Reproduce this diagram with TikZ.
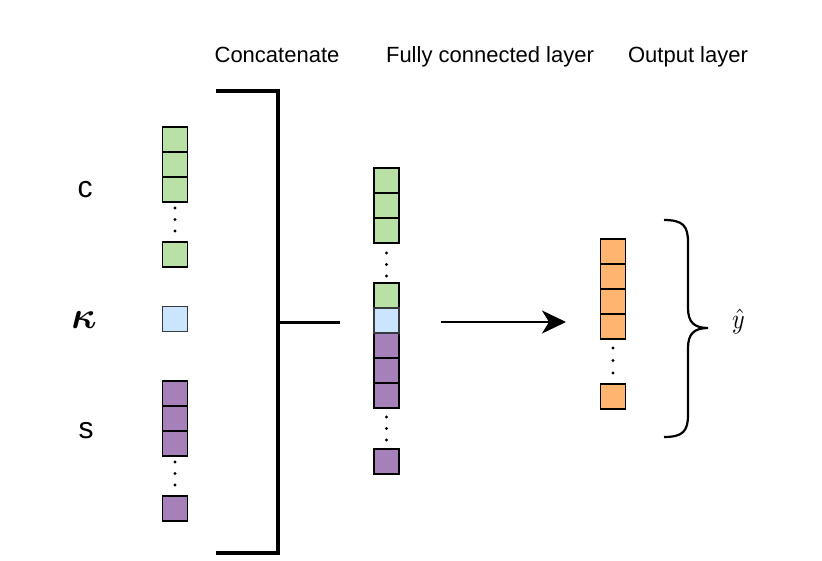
\documentclass[tikz,border=0pt]{standalone}
\usepackage{amsmath,bm}
\usepackage{graphicx}
\usepackage{fontspec}
\setmainfont{Liberation Sans}
\usetikzlibrary{arrows.meta}

\definecolor{cgreen}{HTML}{B9E0A5}
\definecolor{cblue}{HTML}{CCE5FF}
\definecolor{cpurple}{HTML}{A680B8}
\definecolor{corange}{HTML}{FFB570}
\definecolor{cgray}{HTML}{36393D}

\tikzset{
  cell/.style={draw, line width=1.8pt, minimum size=25pt, inner sep=0pt, outer sep=0pt},
  dot/.style={fill, circle, inner sep=0pt, minimum size=3.2pt},
  title/.style={font=\fontsize{22}{26}\selectfont, anchor=base},
  symb/.style={font=\fontsize{30}{34}\selectfont},
}

\begin{document}
\begin{tikzpicture}[x=1pt, y=-1pt, >=Stealth]
	\useasboundingbox (0,0) rectangle (822,560);

	% titles
	\node[title] (tcat) at (277,62) {Concatenate};
	\node[title] (tfc) at (490,62) {Fully connected layer};
	\node[title] (tout) at (688,62) {Output layer};

	% inputs
	\node[symb] (lc) at (85,190) {c};
	\node (lk) at (84,320) {\scalebox{3.8}{$\bm{\kappa}$}};
	\node[symb] (ls) at (86,431) {s};

	% left column: c
	\foreach \i/\y in {1/139.5, 2/164.5, 3/189.5}
		\node[cell, fill=cgreen] (c\i) at (175,\y) {};
	\foreach \y in {208, 219.5, 231}
		\node[dot] at (175,\y) {};
	\node[cell, fill=cgreen] (cn) at (175,254.5) {};

	% left column: kappa
	\node[cell, fill=cblue, draw=cgray] (k) at (175,319) {};

	% left column: s
	\foreach \i/\y in {1/393.5, 2/418.5, 3/443.5}
		\node[cell, fill=cpurple] (s\i) at (175,\y) {};
	\foreach \y in {462, 473.5, 485}
		\node[dot] at (175,\y) {};
	\node[cell, fill=cpurple] (sn) at (175,508.5) {};

	% concatenation bracket
	\draw[line width=3.6pt] (216,91) -- (278,91) -- (278,553) -- (216,553);
	\draw[line width=3pt] (278,322) -- (340,322);

	% fully connected layer
	\foreach \i/\y in {1/180.5, 2/205.5, 3/230.5}
		\node[cell, fill=cgreen] (fc\i) at (386.5,\y) {};
	\foreach \y in {253, 264.5, 276}
		\node[dot] at (386.5,\y) {};
	\node[cell, fill=cgreen] (fcn) at (386.5,295.5) {};
	\node[cell, fill=cblue, draw=cgray] (fk) at (386.5,320.5) {};
	\foreach \i/\y in {1/345.5, 2/370.5, 3/395.5}
		\node[cell, fill=cpurple] (fs\i) at (386.5,\y) {};
	\foreach \y in {417, 428.5, 440}
		\node[dot] at (386.5,\y) {};
	\node[cell, fill=cpurple] (fsn) at (386.5,461.5) {};
	\draw[cgray, line width=1.8pt] (fk.north west) rectangle (fk.south east);

	% arrow
	\coordinate (ain) at (441,322);
	\coordinate (aout) at (566,322);
	\draw[line width=2pt, -{Stealth[length=24pt, width=23pt, inset=7pt]}] (ain) -- (aout);

	% output layer
	\foreach \i/\y in {1/251.5, 2/276.5, 3/301.5, 4/326.5}
		\node[cell, fill=corange] (o\i) at (613,\y) {};
	\foreach \y in {348, 360.5, 373}
		\node[dot] at (613,\y) {};
	\node[cell, fill=corange] (on) at (613,396.5) {};

	% brace
	\draw[line width=2.2pt]
		(664,220) .. controls (683,220) and (688,226) .. (688,242) % top end
		-- (688,308)
		.. controls (688,322) and (694,328) .. (708,328) % tip
		.. controls (694,328) and (688,334) .. (688,348)
		-- (688,415)
		.. controls (688,431) and (683,437) .. (664,437); % bottom end
	\node (yhat) at (738.5,321) {\scalebox{2.4}[2.8]{$\hat{y}$}};
\end{tikzpicture}
\end{document}
